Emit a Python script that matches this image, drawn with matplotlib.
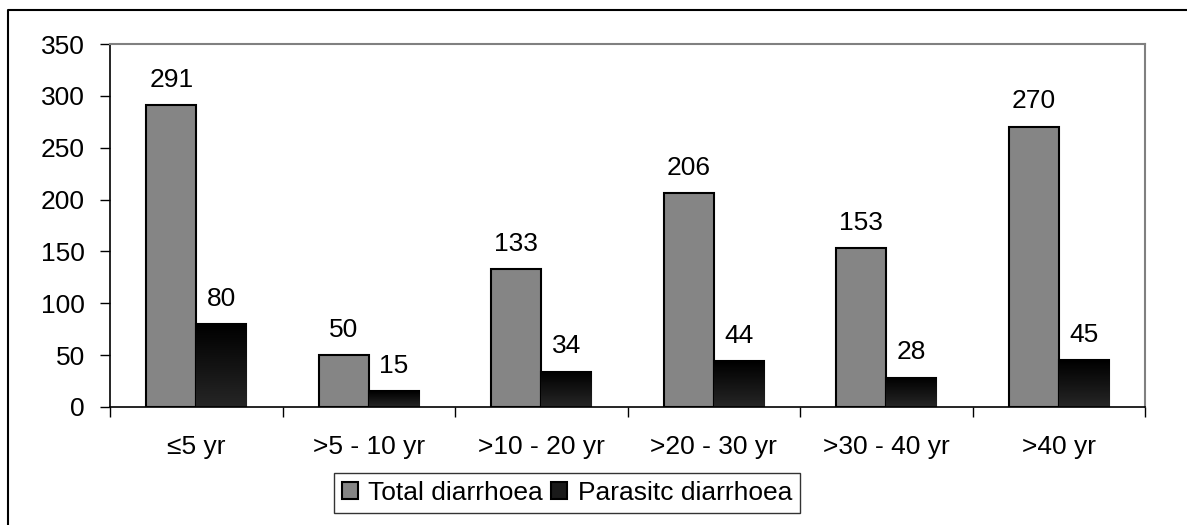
import numpy as np
import matplotlib
matplotlib.use("Agg")
import matplotlib.pyplot as plt
from matplotlib.lines import Line2D

plt.rcParams['font.family'] = ['Liberation Sans', 'DejaVu Sans']

# data
age_groups = ['≤5 yr', '>5 - 10 yr', '>10 - 20 yr', '>20 - 30 yr', '>30 - 40 yr', '>40 yr']
total = [291, 50, 133, 206, 153, 270]
parasitic = [80, 15, 34, 44, 28, 45]

fig = plt.figure(figsize=(11.87, 5.25), dpi=100)
ax = fig.add_axes([110 / 1187, 1 - 407 / 525, 1035 / 1187, 363 / 525])

x = np.arange(len(age_groups))
w = 0.29
b1 = ax.bar(x - w / 2, total, w, color='#858585', edgecolor='black', linewidth=1.5,
            label='Total diarrhoea', zorder=2)
b2 = ax.bar(x + w / 2, parasitic, w, color='#1a1a1a', edgecolor='black', linewidth=1.5,
            label='Parasitc diarrhoea', zorder=2)

# dark gradient on the parasitic bars (black at top, a bit lighter below)
cmap = matplotlib.colors.LinearSegmentedColormap.from_list('g', ['#262626', '#000000'])
grad = np.linspace(0, 1, 100).reshape(-1, 1)
for r in b2:
    x0, y0 = r.get_x(), r.get_y()
    im = ax.imshow(grad, cmap=cmap, extent=[x0, x0 + r.get_width(), y0, y0 + r.get_height()],
                   aspect='auto', origin='lower', zorder=2.5)
    im.set_clip_path(r)

fs = 19
for bars in (b1, b2):
    for r in bars:
        ax.text(r.get_x() + r.get_width() / 2, r.get_height() + 13, str(int(r.get_height())),
                ha='center', va='bottom', fontsize=fs)

ax.set_xlim(-0.5, len(age_groups) - 0.5)
ax.set_ylim(0, 350)
ax.set_yticks(range(0, 351, 50))
ax.set_xticks(x)
ax.set_xticklabels(age_groups)
ax.set_xticks(np.arange(-0.5, len(age_groups)), minor=True)
ax.tick_params(axis='x', which='major', length=0, pad=20, labelsize=fs)
ax.tick_params(axis='x', which='minor', length=7, width=1, direction='out')
ax.tick_params(axis='y', length=7, width=1, direction='out', pad=11, labelsize=fs)

for s in ('top', 'right'):
    ax.spines[s].set_color('#808080')
    ax.spines[s].set_linewidth(1.5)
for s in ('left', 'bottom'):
    ax.spines[s].set_color('black')
    ax.spines[s].set_linewidth(1.2)

leg = fig.legend(handles=[b1, b2], loc='center', bbox_to_anchor=(567 / 1187, 1 - 493 / 525),
                 ncol=2, fontsize=fs, frameon=True, fancybox=False, edgecolor='black',
                 handlelength=0.6, handleheight=0.6, handletextpad=0.4, columnspacing=0.3,
                 borderpad=0.3)
leg.get_frame().set_linewidth(1)

# outer frame (left and top edges only)
fig.add_artist(Line2D([8 / 1187, 8 / 1187, 1], [0, 1 - 10 / 525, 1 - 10 / 525],
                      color='black', linewidth=1.5, transform=fig.transFigure))

fig.savefig('out.png', dpi=100)
